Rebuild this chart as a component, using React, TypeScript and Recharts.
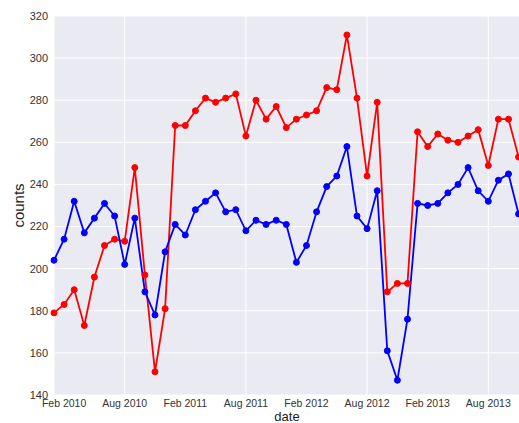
import { CartesianGrid, Line, LineChart, XAxis, YAxis } from "recharts";

// one point per month, Jan 2010 .. Nov 2013
const months: string[] = [];
for (let y = 2010; y <= 2013; y++) {
  for (let m = 0; m < 12; m++) {
    if (y === 2013 && m > 10) break;
    months.push(`${y}-${String(m + 1).padStart(2, "0")}`);
  }
}

const redCounts = [
  179, 183, 190, 173, 196, 211, 214, 213, 248, 197, 151, 181,
  268, 268, 275, 281, 279, 281, 283, 263, 280, 271, 277, 267,
  271, 273, 275, 286, 285, 311, 281, 244, 279, 189, 193, 193,
  265, 258, 264, 261, 260, 263, 266, 249, 271, 271, 253,
];

const blueCounts = [
  204, 214, 232, 217, 224, 231, 225, 202, 224, 189, 178, 208,
  221, 216, 228, 232, 236, 227, 228, 218, 223, 221, 223, 221,
  203, 211, 227, 239, 244, 258, 225, 219, 237, 161, 147, 176,
  231, 230, 231, 236, 240, 248, 237, 232, 242, 245, 226,
];

const xTicks = [1, 7, 13, 19, 25, 31, 37, 43];
const xTickLabels = [
  "Feb 2010", "Aug 2010", "Feb 2011", "Aug 2011",
  "Feb 2012", "Aug 2012", "Feb 2013", "Aug 2013",
];
const yTicks = [140, 160, 180, 200, 220, 240, 260, 280, 300, 320];

const data = months.map((month, i) => ({
  idx: i,
  month,
  red: redCounts[i],
  blue: blueCounts[i],
}));

const FONT = "'Liberation Sans', Arial, sans-serif";

export default function App() {
  return (
    <div
      style={{
        position: "absolute",
        left: 0,
        top: 0,
        width: 519,
        height: 423,
        overflow: "hidden",
        background: "#fff",
        fontFamily: FONT,
      }}
    >
      <LineChart
        width={540}
        height={423}
        data={data}
        margin={{ top: 16, right: 20, bottom: 0, left: 0 }}
      >
        <CartesianGrid
          fill="#EAEAF2"
          stroke="#ffffff"
          strokeWidth={1}
          horizontal
          vertical
        />
        <XAxis
          dataKey="idx"
          type="number"
          domain={[0, 46.14]}
          ticks={xTicks}
          tickFormatter={(v: number) => xTickLabels[xTicks.indexOf(v)] ?? ""}
          tickLine={false}
          axisLine={false}
          tickSize={0}
          tickMargin={5}
          height={28}
          tick={{ fill: "#333", fontSize: 10.5, fontFamily: FONT }}
          label={{
            value: "date",
            position: "insideBottom",
            offset: 2,
            fill: "#222",
            fontSize: 13,
            fontFamily: FONT,
          }}
        />
        <YAxis
          type="number"
          domain={[140, 320]}
          ticks={yTicks}
          width={54}
          tickLine={false}
          axisLine={false}
          tickSize={0}
          tickMargin={6}
          interval={0}
          tick={{ fill: "#333", fontSize: 11, fontFamily: FONT }}
          label={{
            value: "counts",
            angle: -90,
            position: "center",
            dx: -8,
            fill: "#222",
            fontSize: 15,
            fontFamily: FONT,
          }}
        />
        <Line
          dataKey="red"
          stroke="#ff0000"
          strokeWidth={1.8}
          dot={{ r: 3, fill: "#ff0000", stroke: "#ff0000", strokeWidth: 1 }}
          isAnimationActive={false}
        />
        <Line
          dataKey="blue"
          stroke="#0000ff"
          strokeWidth={1.8}
          dot={{ r: 3, fill: "#0000ff", stroke: "#0000ff", strokeWidth: 1 }}
          isAnimationActive={false}
        />
      </LineChart>
    </div>
  );
}
